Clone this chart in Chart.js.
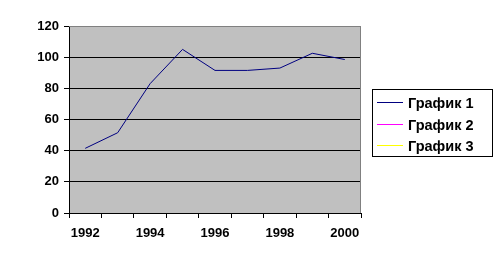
<!DOCTYPE html>
<html>
<head>
<meta charset="utf-8">
<script src="https://cdn.jsdelivr.net/npm/chart.js@4"></script>
<style>
  html, body { margin: 0; padding: 0; background: #fff; }
  #wrap { width: 502px; height: 271px; }
</style>
</head>
<body>
<div id="wrap"><canvas id="graph" width="502" height="271"></canvas></div>
<script>
// data
const years = ["1992", "1993", "1994", "1995", "1996", "1997", "1998", "1999", "2000"];
const grafik1 = [41.5, 51.5, 83, 105, 91.5, 91.5, 93, 102.5, 98.5];
const grafik2 = [];
const grafik3 = [];
const seriesNames = ["График 1", "График 2", "График 3"];
const seriesColors = ["#000080", "#ff00ff", "#ffff00"];

const font = { family: "'Liberation Sans', Arial, sans-serif", size: 13, weight: "bold" };

// grey plot area + border
const plotBack = {
  id: "plotBack",
  beforeDraw(chart) {
    const a = chart.chartArea, c = chart.ctx;
    c.save();
    c.fillStyle = "#c0c0c0";
    c.fillRect(a.left, a.top, a.right - a.left, a.bottom - a.top);
    c.restore();
  },
  afterDatasetsDraw(chart) {
    const a = chart.chartArea, c = chart.ctx;
    c.save();
    c.strokeStyle = "#808080";
    c.lineWidth = 1;
    c.beginPath();
    c.moveTo(a.left, a.top + 0.5);
    c.lineTo(a.right - 0.5, a.top + 0.5);
    c.lineTo(a.right - 0.5, a.bottom);
    c.stroke();
    c.restore();
  }
};

// legend in a black box, like the excel one
const boxLegend = {
  id: "boxLegend",
  afterDraw(chart) {
    const c = chart.ctx;
    const sets = chart.data.datasets;
    c.save();
    c.lineWidth = 1;
    c.strokeStyle = "#000";
    c.strokeRect(372.5, 89.5, 120, 67);
    // sample lines
    sets.forEach((ds, i) => {
      const y = Math.round(102 + i * 21.5) + 0.5;
      c.strokeStyle = ds.borderColor;
      c.beginPath();
      c.moveTo(377, y);
      c.lineTo(403, y);
      c.stroke();
    });
    // labels
    c.font = "bold 14.5px 'Liberation Sans', Arial, sans-serif";
    c.textBaseline = "middle";
    c.textAlign = "left";
    c.fillStyle = "#000000";
    sets.forEach((ds, i) => {
      const y = Math.round(102 + i * 21.5) + 1.5;
      c.fillText(ds.label, 408, y);
    });
    c.restore();
  }
};

const ctx = document.getElementById("graph").getContext("2d");
const myChart = new Chart(ctx, {
  type: "line",
  data: {
    labels: years,
    datasets: [
      { label: seriesNames[0], data: grafik1, borderColor: seriesColors[0], borderWidth: 1 },
      { label: seriesNames[1], data: grafik2, borderColor: seriesColors[1], borderWidth: 1 },
      { label: seriesNames[2], data: grafik3, borderColor: seriesColors[2], borderWidth: 1 },
    ],
  },
  options: {
    responsive: false,
    animation: false,
    devicePixelRatio: 1,
    layout: { padding: { top: 26, right: 141, bottom: 0, left: 0 } },
    elements: { point: { radius: 0 }, line: { tension: 0 } },
    plugins: { legend: { display: false }, tooltip: { enabled: false } },
    scales: {
      x: {
        offset: true,
        grid: { offset: true, drawOnChartArea: false, drawTicks: true, tickLength: 5, color: "#000" },
        border: { color: "#000" },
        ticks: {
          autoSkip: false, maxRotation: 0, color: "#000", font: font, padding: 8,
          callback: (v, i) => (i % 2 === 0 ? years[i] : ""),
        },
        afterFit: (s) => { s.height = 58; },
      },
      y: {
        min: 0, max: 120,
        grid: {
          color: (c) => (c.tick && c.tick.value === 120 ? "#808080" : "#000"),
          tickColor: "#000", tickLength: 5,
        },
        border: { color: "#000" },
        ticks: { stepSize: 20, color: "#000", font: font, padding: 5 },
        afterFit: (s) => { s.width = 69; },
      },
    },
  },
  plugins: [plotBack, boxLegend],
});
</script>
</body>
</html>
